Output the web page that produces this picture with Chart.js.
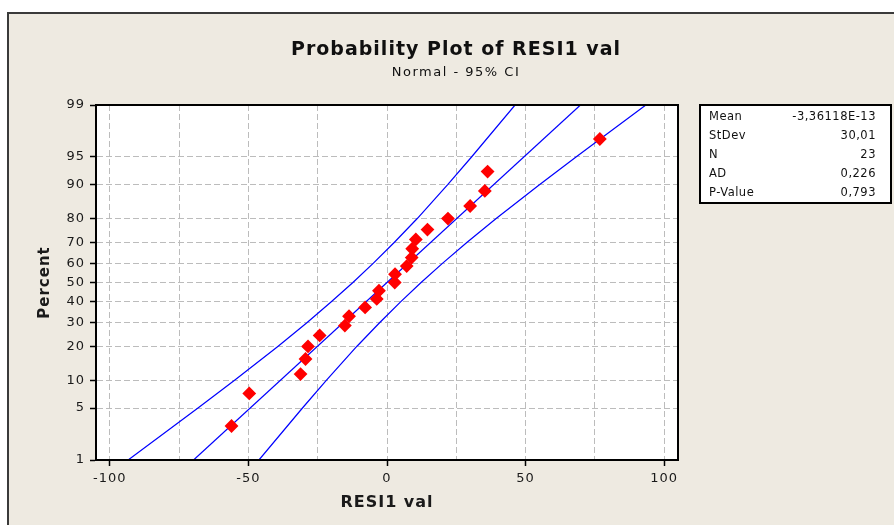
<!DOCTYPE html>
<html>
<head>
<meta charset="utf-8">
<title>Probability Plot of RESI1 val</title>
<script src="https://cdn.jsdelivr.net/npm/chart.js@4.4.1/dist/chart.umd.min.js"></script>
<style>
    html, body { margin: 0; padding: 0; background: #ffffff; }
    #wrap { width: 894px; height: 525px; position: relative; }
</style>
</head>
<body>
<div id="wrap"><canvas id="chart" width="894" height="525"></canvas></div>
<script>
// residuals, with their plotted percent (median ranks)
const residuals = [-56.1, -49.7, -31.2, -29.4, -28.5, -24.3, -15.2, -13.7, -7.9, -3.7, -2.9, 2.8,
    2.9, 7.1, 8.9, 9.1, 10.4, 14.6, 22.0, 30.0, 35.3, 36.3, 76.8];
const percents = [3.0, 7.3, 11.5, 15.8, 20.1, 24.4, 28.6, 32.9, 37.2, 41.5, 45.7, 50.0,
    54.3, 58.5, 62.8, 67.1, 71.4, 75.6, 79.9, 84.2, 88.5, 92.7, 97.0];

// fitted line end points
const fitX = [-69.8, 69.8];
const fitPercent = [1, 99];

// 95% confidence bands
const ciPercent = [1, 5, 10, 20, 30, 40, 50, 60, 70, 80, 90, 95, 99];
const ciLower = [-93.4, -68.2, -55.0, -39.5, -28.8, -20.1, -12.3, -4.9, 2.6, 11.0, 21.9, 30.5, 46.2];
const ciUpper = [-46.2, -30.5, -21.9, -11.0, -2.6, 4.9, 12.3, 20.1, 28.8, 39.5, 55.0, 68.2, 93.4];

const percentTicks = [1, 5, 10, 20, 30, 40, 50, 60, 70, 80, 90, 95, 99];
const xGridTicks = [-100, -75, -50, -25, 0, 25, 50, 75, 100];
const xLabelTicks = [-100, -50, 0, 50, 100];

const statLabels = ['Mean', 'StDev', 'N', 'AD', 'P-Value'];
const statValues = ['-3,36118E-13', '30,01', '23', '0,226', '0,793'];

const FONT = '"DejaVu Sans", Verdana, sans-serif';

// inverse normal cdf (Acklam) - used for the probability axis
function probit(p) {
    const a = [-39.69683028665376, 220.9460984245205, -275.9285104469687, 138.3577518672690, -30.66479806614716, 2.506628277459239];
    const b = [-54.47609879822406, 161.5858368580409, -155.6989798598866, 66.80131188771972, -13.28068155288572];
    const c = [-0.007784894002430293, -0.3223964580411365, -2.400758277161838, -2.549732539343734, 4.374664141464968, 2.938163982698783];
    const d = [0.007784695709041462, 0.3224671290700398, 2.445134137142996, 3.754408661907416];
    const pLow = 0.02425;
    let q, r;

    if (p < pLow) {
        q = Math.sqrt(-2 * Math.log(p));
        return (((((c[0] * q + c[1]) * q + c[2]) * q + c[3]) * q + c[4]) * q + c[5]) /
            ((((d[0] * q + d[1]) * q + d[2]) * q + d[3]) * q + 1);
    }
    if (p <= 1 - pLow) {
        q = p - 0.5;
        r = q * q;
        return (((((a[0] * r + a[1]) * r + a[2]) * r + a[3]) * r + a[4]) * r + a[5]) * q /
            (((((b[0] * r + b[1]) * r + b[2]) * r + b[3]) * r + b[4]) * r + 1);
    }
    q = Math.sqrt(-2 * Math.log(1 - p));
    return -(((((c[0] * q + c[1]) * q + c[2]) * q + c[3]) * q + c[4]) * q + c[5]) /
        ((((d[0] * q + d[1]) * q + d[2]) * q + d[3]) * q + 1);
}

function toPoints(xs, ps) {
    return xs.map((x, i) => ({ x: x, y: probit(ps[i] / 100) }));
}

const framePlugin = {
    id: 'frame',
    beforeDraw(chart) {
        const ctx = chart.ctx;
        ctx.save();
        ctx.fillStyle = '#ffffff';
        ctx.fillRect(0, 0, chart.width, chart.height);
        ctx.fillStyle = '#eeeae1';
        ctx.fillRect(7, 12, chart.width - 7, chart.height - 12);
        ctx.strokeStyle = '#3a3a3a';
        ctx.lineWidth = 2;
        ctx.beginPath();
        ctx.moveTo(8, chart.height);
        ctx.lineTo(8, 13);
        ctx.lineTo(chart.width, 13);
        ctx.stroke();
        const area = chart.chartArea;
        ctx.fillStyle = '#ffffff';
        ctx.fillRect(area.left, area.top, area.right - area.left, area.bottom - area.top);
        ctx.restore();
        ctx.letterSpacing = '1px';
    },
    afterDraw(chart) {
        const ctx = chart.ctx;
        const area = chart.chartArea;
        ctx.save();
        ctx.strokeStyle = '#000000';
        ctx.lineWidth = 2;
        ctx.strokeRect(area.left, area.top, area.right - area.left, area.bottom - area.top);

        // titles
        ctx.fillStyle = '#101010';
        ctx.textAlign = 'center';
        ctx.textBaseline = 'middle';
        ctx.letterSpacing = '1px';
        ctx.font = 'bold 19px ' + FONT;
        ctx.fillText('Probability Plot of RESI1 val', 456, 50);
        ctx.letterSpacing = '1.5px';
        ctx.font = '13px ' + FONT;
        ctx.fillText('Normal - 95% CI', 456, 73);

        // stats box
        ctx.fillStyle = '#ffffff';
        ctx.fillRect(700, 105, 191, 98);
        ctx.strokeStyle = '#000000';
        ctx.lineWidth = 2;
        ctx.strokeRect(700, 105, 191, 98);
        ctx.font = '11.5px ' + FONT;
        ctx.letterSpacing = '0.5px';
        ctx.fillStyle = '#111111';
        statLabels.forEach((label, i) => {
            const y = 117.5 + i * 19;
            ctx.textAlign = 'left';
            ctx.fillText(label, 709, y);
            ctx.textAlign = 'right';
            ctx.fillText(statValues[i], 876, y);
        });
        ctx.restore();
    },
};

new Chart(document.getElementById('chart'), {
    type: 'scatter',
    data: {
        datasets: [
            {
                label: 'RESI1 val',
                data: toPoints(residuals, percents),
                pointStyle: 'rectRot',
                pointRadius: 5.5,
                pointBorderWidth: 2,
                backgroundColor: '#ff0000',
                borderColor: '#ff0000',
            },
            {
                label: 'Fit',
                data: toPoints(fitX, fitPercent),
                showLine: true,
                pointRadius: 0,
                borderColor: '#0000ff',
                borderWidth: 1.2,
            },
            {
                label: 'Lower CI',
                data: toPoints(ciLower, ciPercent),
                showLine: true,
                pointRadius: 0,
                borderColor: '#0000ff',
                borderWidth: 1.2,
            },
            {
                label: 'Upper CI',
                data: toPoints(ciUpper, ciPercent),
                showLine: true,
                pointRadius: 0,
                borderColor: '#0000ff',
                borderWidth: 1.2,
            },
        ],
    },
    options: {
        responsive: false,
        animation: false,
        events: [],
        layout: {
            padding: { left: 0, top: 105, right: 216, bottom: 0 },
        },
        plugins: {
            legend: { display: false },
            tooltip: { enabled: false },
        },
        scales: {
            x: {
                type: 'linear',
                min: -105,
                max: 105,
                afterBuildTicks(scale) {
                    scale.ticks = xGridTicks.map((value) => ({ value }));
                },
                afterFit(scale) {
                    scale.height = 65;
                },
                ticks: {
                    autoSkip: false,
                    maxRotation: 0,
                    padding: 5,
                    color: '#1a1a1a',
                    font: { family: FONT, size: 13 },
                    callback: (value) => (xLabelTicks.includes(value) ? String(value) : ''),
                },
                grid: {
                    color: '#bcbcbc',
                    lineWidth: 1,
                    tickLength: 6,
                    tickWidth: 1.5,
                    tickColor: (ctx) => (ctx.tick && xLabelTicks.includes(ctx.tick.value) ? '#000000' : 'rgba(0,0,0,0)'),
                },
                border: { display: true, color: '#000000', width: 2, dash: [6, 3] },
                title: {
                    display: true,
                    text: 'RESI1 val',
                    color: '#1a1a1a',
                    font: { family: FONT, size: 16, weight: 'bold' },
                    padding: { top: 0, bottom: 13 },
                },
            },
            y: {
                type: 'linear',
                min: probit(0.01),
                max: probit(0.99),
                afterBuildTicks(scale) {
                    scale.ticks = percentTicks.map((p) => ({ value: probit(p / 100) }));
                },
                afterFit(scale) {
                    scale.width = 96;
                },
                ticks: {
                    autoSkip: false,
                    padding: 5,
                    color: '#1a1a1a',
                    font: { family: FONT, size: 13 },
                    callback: (value, index) => String(percentTicks[index]),
                },
                grid: {
                    color: '#bcbcbc',
                    lineWidth: 1,
                    tickLength: 6,
                    tickWidth: 1.5,
                    tickColor: '#000000',
                },
                border: { display: true, color: '#000000', width: 2, dash: [6, 3] },
                title: {
                    display: true,
                    text: 'Percent',
                    color: '#1a1a1a',
                    font: { family: FONT, size: 15, weight: 'bold' },
                    padding: { top: 36, bottom: 0 },
                },
            },
        },
    },
    plugins: [framePlugin],
});
</script>
</body>
</html>
